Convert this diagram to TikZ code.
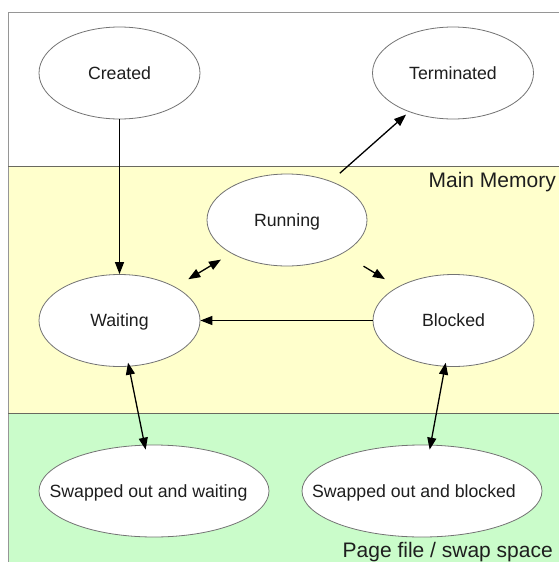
\documentclass[tikz,border=0pt]{standalone}
\usepackage{fontspec}
\setmainfont{Liberation Sans}
\usetikzlibrary{shapes.geometric,arrows.meta}

\definecolor{memyellow}{RGB}{255,255,204}
\definecolor{swapgreen}{RGB}{202,252,202}
\definecolor{framegray}{RGB}{150,150,150}
\definecolor{bandline}{RGB}{105,105,95}
\definecolor{ovalline}{RGB}{115,115,115}
\definecolor{txt}{RGB}{30,30,30}

% zero-width text box so the oval keeps its own size; optional shift
\newcommand{\ovaltext}[2][0pt]{\makebox[0pt]{\hspace*{#1}#2}}

\begin{document}
\begin{tikzpicture}[x=1pt,y=-1pt,
  stateoval/.style={ellipse, draw=ovalline, line width=0.8pt, fill=white,
    minimum height=92pt, minimum width=#1, inner sep=0pt,
    text height=12.7pt, text depth=0pt,
    font=\fontsize{17.7}{20}\selectfont, text=txt},
  flow/.style={draw=black, line width=1.3pt,
    -{Triangle[length=12pt,width=9pt]}},
  twoway/.style={draw=black, line width=1.3pt,
    {Triangle[length=12pt,width=9pt]}-{Triangle[length=12pt,width=9pt]}},
  zonelabel/.style={font=\fontsize{21}{24}\selectfont, text=txt,
    anchor=base east, inner sep=0pt}
]
\useasboundingbox (0,0) rectangle (559,562);

% memory zones
\fill[white] (0,0) rectangle (559,562);
\fill[memyellow] (8,166) rectangle (559,413);
\fill[swapgreen] (8,413) rectangle (559,562);
\draw[framegray, line width=0.8pt] (8,562) -- (8,12) -- (559,12);
\draw[bandline, line width=0.8pt] (8,166) -- (559,166);
\draw[bandline, line width=0.8pt] (8,413) -- (559,413);

% process states
\node[stateoval=161pt] (created)    at (119.5,73)    {\ovaltext{Created}};
\node[stateoval=161pt] (terminated) at (453,73)      {\ovaltext{Terminated}};
\node[stateoval=160pt] (running)    at (287,220)     {\ovaltext{Running}};
\node[stateoval=161pt] (waiting)    at (119.5,320.5) {\ovaltext{Waiting}};
\node[stateoval=161pt] (blocked)    at (453.5,320.5) {\ovaltext{Blocked}};
\node[stateoval=230pt] (swwait)     at (154,491)     {\ovaltext[-11pt]{Swapped out and waiting}};
\node[stateoval=240pt] (swblock)    at (422,491)     {\ovaltext[-16pt]{Swapped out and blocked}};

% zone labels
\node[zonelabel] (mainmem)  at (556,187) {Main Memory};
\node[zonelabel] (pagefile) at (553,557) {Page file / swap space};

% transitions
\draw[flow] (created) -- (waiting);
\draw[flow, shorten <=12pt, shorten >=4pt] (running) -- (terminated);
\draw[twoway, shorten <=12pt, shorten >=15pt] (running) -- (waiting);
\draw[flow, shorten <=24.5pt, shorten >=15pt] (running) -- (blocked);
\draw[flow] (blocked) -- (waiting);
\draw[twoway, shorten <=-4pt, shorten >=-5pt] (waiting) -- (swwait);
\draw[twoway, shorten <=-4pt, shorten >=-5pt] (blocked) -- (swblock);
\end{tikzpicture}
\end{document}
